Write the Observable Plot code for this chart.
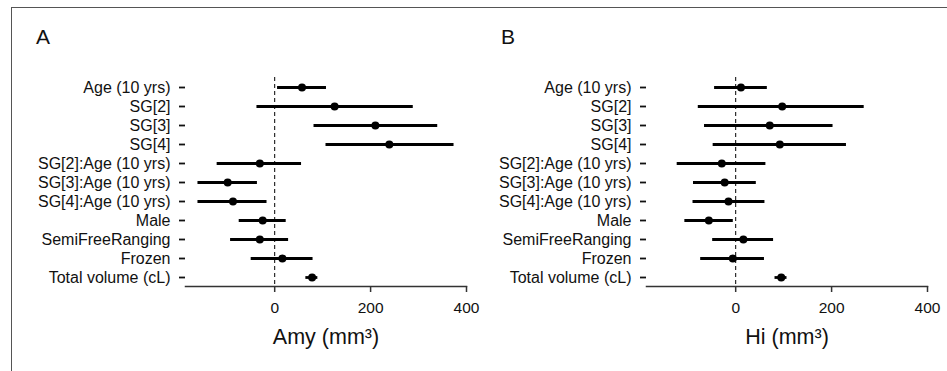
<!DOCTYPE html>
<html><head><meta charset="utf-8">
<script src="https://cdn.jsdelivr.net/npm/d3@7"></script>
<script src="https://cdn.jsdelivr.net/npm/@observablehq/plot@0.6"></script>
<style>
body{margin:0;background:#fff;font-family:"Liberation Sans",Arial,sans-serif;}
#wrap{position:relative;width:947px;height:371px;overflow:hidden;}
#border{position:absolute;left:11px;top:7px;width:950px;height:400px;border-top:1.5px solid #555;border-left:1.5px solid #555;}
.panel{position:absolute;top:0;}
.letter{position:absolute;font-size:21px;color:#111;}
</style></head>
<body><div id="wrap"><div id="border"></div>
<div class="letter" style="left:36px;top:25px">A</div>
<div class="letter" style="left:501px;top:25px">B</div>
<div id="pa" class="panel" style="left:0px"></div>
<div id="pb" class="panel" style="left:470px"></div>
</div>
<script>
const terms = ["Age (10 yrs)","SG[2]","SG[3]","SG[4]","SG[2]:Age (10 yrs)","SG[3]:Age (10 yrs)","SG[4]:Age (10 yrs)","Male","SemiFreeRanging","Frozen","Total volume (cL)"];
const amyMean = [57,125,210,239,-31,-98,-87,-25,-31,16,78];
const amyLow  = [6,-37,82,107,-120,-160,-160,-74,-92,-49,65];
const amyHigh = [108,289,340,374,56,-36,-16,24,29,80,90];
const hiMean = [11,97,71,92,-29,-23,-15,-56,16,-6,95];
const hiLow  = [-44,-78,-65,-47,-122,-88,-89,-106,-48,-73,82];
const hiHigh = [66,268,203,231,63,43,61,-5,79,60,107];
const xTicks = [0,200,400];

function panel(mean, low, high, label, marginLeft, width) {
  const data = terms.map((t,i)=>({term:t, mean:mean[i], low:low[i], high:high[i]}));
  return Plot.plot({
    width, height: 371,
    marginTop: 77, marginBottom: 85, marginLeft, marginRight: width - (marginLeft + 281),
    style: {fontFamily: '"Liberation Sans", Arial, sans-serif', fontSize: "16px", color: "#111", background: "transparent", overflow: "visible"},
    x: {domain: [-186, 400], label: null},
    y: {domain: terms, type: "point", padding: 0.5, label: null},
    marks: [
      Plot.frame({anchor: "bottom", stroke: "#333", strokeWidth: 1.5}),
      Plot.ruleX([0], {stroke: "#000", strokeDasharray: "4,3", strokeWidth: 1}),
      Plot.ruleY(data, {y: "term", x1: "low", x2: "high", stroke: "#000", strokeWidth: 2.8}),
      Plot.dot(data, {y: "term", x: "mean", r: 4, fill: "#000"}),
      Plot.axisX({ticks: xTicks, tickSize: 6, tickPadding: 9, stroke: "#333", strokeWidth: 1.5, fontSize: "15.5px", label, labelAnchor: "center", labelArrow: "none", labelOffset: 57}),
      Plot.axisY({tickSize: 6, tickPadding: 9, strokeWidth: 1.8, stroke: "#111", fontSize: "16px", label: null})
    ]
  });
}
const a = panel(amyMean, amyLow, amyHigh, "Amy (mm³)", 185, 470);
const b = panel(hiMean, hiLow, hiHigh, "Hi (mm³)", 176, 477);
[a,b].forEach(s => s.querySelectorAll('[aria-label="x-axis label"] text').forEach(t=>t.style.fontSize="21.5px"));
document.getElementById("pa").appendChild(a);
document.getElementById("pb").appendChild(b);
</script></body></html>
